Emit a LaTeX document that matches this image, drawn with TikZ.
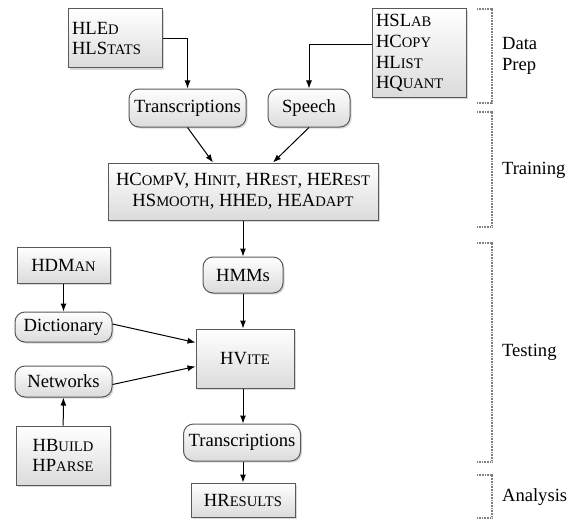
\documentclass[tikz,border=0pt]{standalone}
\usepackage{fontspec}
\setmainfont{Liberation Serif}
\usetikzlibrary{arrows.meta,positioning,shadows,calc}
\newcommand{\sk}[1]{{\fontsize{7.3}{9}\selectfont\MakeUppercase{#1}}}

\begin{document}
\begin{tikzpicture}[
    x=0.5pt, y=-0.5pt,
    font=\fontsize{9.3}{10.4}\selectfont,
    tool/.style={rectangle, draw=black!65, line width=0.5pt, top color=white, bottom color=black!14, drop shadow={shadow xshift=0.8pt, shadow yshift=-0.8pt, fill=black!30}, inner sep=2pt, align=center},
    file/.style={tool, rounded corners=5pt},
    arrow/.style={-{Latex[length=4pt,width=3pt]}, line width=0.5pt},
    phase/.style={draw=black!50, dash pattern=on 0.4pt off 0.4pt, line width=0.8pt},
    stagename/.style={anchor=west, align=left},
]
    \useasboundingbox (0,0) rectangle (571,519);

    % Data prep
    \node[tool, minimum width=47pt, minimum height=29.5pt, text width=43pt, align=left] (hled) at (115,38.5) {HLE\sk{d}\\HLS\sk{tats}};
    \node[tool, minimum width=47pt, minimum height=44pt, text width=43pt, align=left] (hslab) at (419,53) {HSL\sk{ab}\\HC\sk{opy}\\HL\sk{ist}\\HQ\sk{uant}};
    \node[file, minimum width=58.5pt, minimum height=19pt] (trans) at (187.5,108) {Transcriptions};
    \node[file, minimum width=41pt, minimum height=19pt] (speech) at (309,108) {Speech};

    % Training
    \node[tool, minimum width=135pt, minimum height=28.5pt] (train) at (243,191.5) {HC\sk{omp}V, H\sk{init}, HR\sk{est}, HER\sk{est}\\HS\sk{mooth}, HHE\sk{d}, HEA\sk{dapt}};
    \node[file, minimum width=40pt, minimum height=18pt] (hmms) at (243,275) {HMMs};

    % Testing
    \node[tool, minimum width=46.5pt, minimum height=18pt] (hdman) at (63.5,265) {HDM\sk{an}};
    \node[file, minimum width=48.5pt, minimum height=15pt] (dict) at (63.5,327) {Dictionary};
    \node[file, minimum width=48.5pt, minimum height=15.5pt] (netw) at (63.5,381.5) {Networks};
    \node[tool, minimum width=47pt, minimum height=29.5pt] (hbuild) at (63,455.5) {HB\sk{uild}\\HP\sk{arse}};
    \node[tool, minimum width=49pt, minimum height=29.5pt] (hvite) at (245,358.5) {HV\sk{ite}};
    \node[file, minimum width=58.5pt, minimum height=18.5pt] (trans2) at (242,442.5) {Transcriptions};

    % Analysis
    \node[tool, minimum width=52pt, minimum height=17pt] (hresults) at (243,500) {HR\sk{esults}};

    % Arrows
    \draw[arrow] (hled.east) -| (trans.north);
    \draw[arrow] ([yshift=4pt]hslab.west) -| (speech.north);
    \draw[arrow] (trans.south) -- ([xshift=-15pt]train.north);
    \draw[arrow] (speech.south) -- ([xshift=15pt]train.north);
    \draw[arrow] (train.south -| hmms) -- (hmms.north);
    \draw[arrow] (hmms.south) -- (hmms.south |- hvite.north);
    \draw[arrow] (hdman) -- (dict);
    \draw[arrow] (hbuild) -- (netw);
    \draw[arrow] ([yshift=1.5pt]dict.east) -- ([yshift=8pt]hvite.west);
    \draw[arrow] ([yshift=-1.5pt]netw.east) -- ([yshift=-4pt]hvite.west);
    \draw[arrow] (hmms.south |- hvite.south) -- (hmms.south |- trans2.north);
    \draw[arrow] (hmms.south |- trans2.south) -- (hresults.north);

    % Stage brackets
    \draw[phase] (477,9) -- (492,9) -- (492,103) -- (477,103);
    \draw[phase] (477,112) -- (492,112) -- (492,227) -- (477,227);
    \draw[phase] (477,243) -- (492,243) -- (492,462) -- (477,462);
    \draw[phase] (477,475) -- (492,475) -- (492,518) -- (477,518);

    % Stage labels
    \node[stagename] (sdata) at (495,56) {Data\\Prep};
    \node[stagename] (strain) at (495,170) {Training};
    \node[stagename] (stest) at (495,352) {Testing};
    \node[stagename] (sana) at (495,497) {Analysis};

\end{tikzpicture}
\end{document}
